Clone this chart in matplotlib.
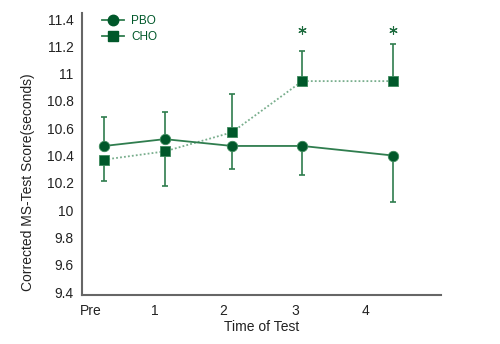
import numpy as np
import matplotlib.pyplot as plt
from matplotlib import font_manager

# font: narrow Arial-like if present
fams = [f.name for f in font_manager.fontManager.ttflist]
if 'Liberation Sans Narrow' in fams:
    plt.rcParams['font.family'] = ['Liberation Sans Narrow', 'DejaVu Sans']
else:
    plt.rcParams['font.family'] = ['Liberation Sans', 'DejaVu Sans']

### Data ###

time_labels = ['Pre', '1', '2', '3', '4']

pbo = [10.47, 10.52, 10.47, 10.47, 10.40]
pbo_err_up = [0.21, 0.20, 0.0, 0.0, 0.0]
pbo_err_down = [0.0, 0.0, 0.17, 0.21, 0.34]

cho = [10.37, 10.43, 10.57, 10.945, 10.945]
cho_err_up = [0.0, 0.0, 0.28, 0.22, 0.275]
cho_err_down = [0.155, 0.25, 0.0, 0.0, 0.0]

sig_idx = [3, 4]   # CHO points flagged with *
sig_y = 11.32

# x positions (points sit a bit right of the labels, as in the original)
tick_pos = [0.124, 1.047, 2.023, 3.047, 4.047]
point_pos = [0.319, 1.181, 2.143, 3.147, 4.443]

### Plot ###

dark = '#00582a'
line_c = '#2f7d4e'
dot_c = '#79ae8d'

fig = plt.figure(figsize=(5, 3.44), dpi=100)
ax = fig.add_axes([82/500, 1-295.3/344, (441-82)/500, (295.3-13)/344])

ax.errorbar(point_pos, pbo, yerr=[pbo_err_down, pbo_err_up], fmt='none',
            ecolor=line_c, elinewidth=1.2, capsize=2.5, capthick=1.2, zorder=2)
ax.errorbar(point_pos, cho, yerr=[cho_err_down, cho_err_up], fmt='none',
            ecolor=line_c, elinewidth=1.2, capsize=2.5, capthick=1.2, zorder=2)

ax.plot(point_pos, cho, color=dot_c, lw=1.3, ls=(0, (1, 1.2)), zorder=3)
ax.plot(point_pos, pbo, color=line_c, lw=1.3, zorder=3)

ax.plot(point_pos, pbo, ls='none', marker='o', ms=7.5, color=dark,
        mec='#3d8a5c', mew=0.6, zorder=4)
ax.plot(point_pos, cho, ls='none', marker='s', ms=6.7, color=dark,
        mec='#3d8a5c', mew=0.6, zorder=4)

ax.plot([point_pos[i] for i in sig_idx], [sig_y] * len(sig_idx), ls='none',
        marker=(6, 2, 0), ms=6, color='#1d6b3e', mew=0.8, zorder=4)

# legend drawn like the original (line + marker, green text)
h1, = ax.plot([], [], color=line_c, lw=1.3, marker='o', ms=7.5, mfc=dark, mec=dark)
h2, = ax.plot([], [], color=line_c, lw=1.3, marker='s', ms=6.7, mfc=dark, mec=dark)
leg = ax.legend([h1, h2], ['PBO', 'CHO'], loc='upper left', frameon=False,
                bbox_to_anchor=(0.025, 1.03), fontsize=8.5, handlelength=1.9,
                handletextpad=0.6, labelspacing=0.35)
for t in leg.get_texts():
    t.set_color(dark)

ax.set_xlim(0, 5.129)
ax.set_ylim(9.376, 11.444)
ax.set_yticks(np.arange(9.4, 11.41, 0.2))
ax.set_yticklabels(['9.4', '9.6', '9.8', '10', '10.2', '10.4', '10.6',
                    '10.8', '11', '11.2', '11.4'])
ax.set_xticks(tick_pos)
ax.set_xticklabels(time_labels)
ax.tick_params(length=0, labelsize=10, colors='#222222', pad=6)

for s in ['top', 'right']:
    ax.spines[s].set_visible(False)
for s in ['left', 'bottom']:
    ax.spines[s].set_color('#666666')
    ax.spines[s].set_linewidth(1.5)

ax.set_xlabel('Time of Test', fontsize=10, color='#222222', labelpad=2)
ax.set_ylabel('Corrected MS-Test Score(seconds)', fontsize=10, color='#222222')
ax.yaxis.set_label_coords(-0.13, 0.40)

fig.savefig('out.png', dpi=100)
